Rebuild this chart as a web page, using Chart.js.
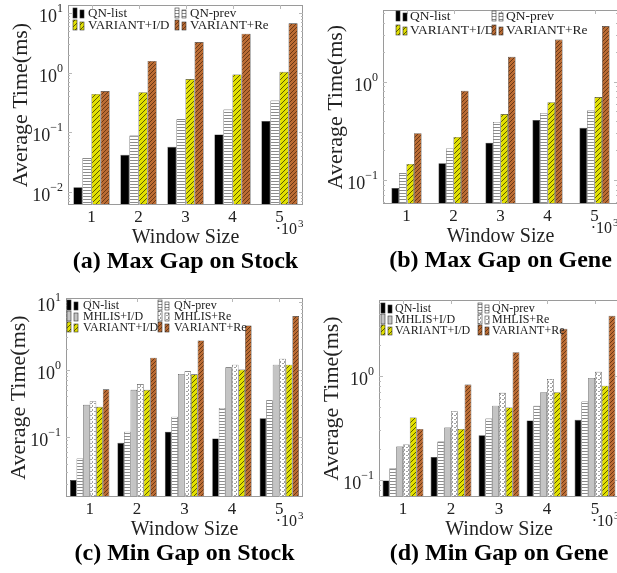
<!DOCTYPE html>
<html>
<head>
<meta charset="utf-8">
<script src="https://cdn.jsdelivr.net/npm/chart.js@4.4.1/dist/chart.umd.min.js"></script>
<style>
  html, body { margin: 0; padding: 0; background: #fff; overflow: hidden; }
  #fig { position: relative; width: 617px; height: 573px; overflow: hidden; }
  #fig canvas { position: absolute; }
</style>
</head>
<body>
<div id="fig">
  <canvas id="pa" width="308" height="285" style="left:0;top:0"></canvas>
  <canvas id="pb" width="320" height="285" style="left:308px;top:0"></canvas>
  <canvas id="pc" width="308" height="288" style="left:0;top:285px"></canvas>
  <canvas id="pd" width="320" height="288" style="left:308px;top:285px"></canvas>
</div>
<script>
// window size (x10^3)
const windowSizes = ['1', '2', '3', '4', '5'];

// (a) Max Gap on Stock
const maxStockQnList = [0.012, 0.042, 0.057, 0.092, 0.155];
const maxStockQnPrev = [0.037, 0.088, 0.165, 0.24, 0.34];
const maxStockVarID  = [0.44, 0.47, 0.78, 0.93, 1.03];
const maxStockVarRe  = [0.49, 1.57, 3.25, 4.5, 6.7];

// (b) Max Gap on Gene
const maxGeneQnList = [0.083, 0.148, 0.24, 0.41, 0.34];
const maxGeneQnPrev = [0.117, 0.21, 0.39, 0.48, 0.51];
const maxGeneVarID  = [0.146, 0.275, 0.47, 0.62, 0.70];
const maxGeneVarRe  = [0.30, 0.81, 1.8, 2.7, 3.7];

// (c) Min Gap on Stock
const minStockQnList  = [0.023, 0.082, 0.12, 0.095, 0.19];
const minStockQnPrev  = [0.048, 0.12, 0.2, 0.27, 0.35];
const minStockMhlisID = [0.30, 0.50, 0.86, 1.08, 1.18];
const minStockMhlisRe = [0.34, 0.61, 0.94, 1.18, 1.45];
const minStockVarID   = [0.28, 0.50, 0.85, 1.0, 1.18];
const minStockVarRe   = [0.51, 1.5, 2.7, 4.5, 6.2];

// (d) Min Gap on Gene
const minGeneQnList  = [0.099, 0.167, 0.27, 0.375, 0.38];
const minGeneQnPrev  = [0.13, 0.235, 0.39, 0.52, 0.57];
const minGeneMhlisID = [0.21, 0.32, 0.52, 0.70, 0.96];
const minGeneMhlisRe = [0.22, 0.46, 0.69, 0.94, 1.1];
const minGeneVarID   = [0.40, 0.31, 0.50, 0.70, 0.81];
const minGeneVarRe   = [0.31, 0.83, 1.7, 2.85, 3.8];

// y tick exponents per panel
const ticksA = [-2, -1, 0, 1];
const ticksB = [-1, 0];
const ticksC = [-1, 0, 1];
const ticksD = [-1, 0];

const SERIF = '"Liberation Serif", "DejaVu Serif", serif';

// ---------- fill patterns ----------
function makeTile(size, draw) {
    const c = document.createElement('canvas');
    c.width = size; c.height = size;
    const g = c.getContext('2d');
    draw(g, size);
    return c;
}
function diag(bg, fg, size) {
    return makeTile(size, function (g, s) {
        g.fillStyle = bg; g.fillRect(0, 0, s, s);
        g.strokeStyle = fg; g.lineWidth = 1;
        g.beginPath();
        g.moveTo(-1, s + 1); g.lineTo(s + 1, -1);
        g.moveTo(-1, 1); g.lineTo(1, -1);
        g.moveTo(s - 1, s + 1); g.lineTo(s + 1, s - 1);
        g.stroke();
    });
}
function fills(ctx) {
    return {
        qnList: '#000000',
        qnPrev: ctx.createPattern(makeTile(3, function (g, s) {
            g.fillStyle = '#ffffff'; g.fillRect(0, 0, s, s);
            g.fillStyle = '#8c8c8c'; g.fillRect(0, 1, s, 1);
        }), 'repeat'),
        mhlisID: '#c4c4c4',
        mhlisRe: ctx.createPattern(makeTile(4, function (g, s) {
            g.fillStyle = '#ffffff'; g.fillRect(0, 0, s, s);
            g.fillStyle = '#a0a0a0'; g.fillRect(0, 0, 1, 2); g.fillRect(2, 2, 2, 1);
        }), 'repeat'),
        varID: ctx.createPattern(diag('#e2e000', '#5c5a00', 5), 'repeat'),
        varRe: ctx.createPattern(diag('#bb6c34', '#6a3815', 4), 'repeat')
    };
}

// ---------- drawing plugin ----------
const figurePlugin = {
    id: 'figure',
    afterDatasetsDraw(chart) {
        const o = chart.options.plugins.figure;
        const ctx = chart.ctx;
        const a = chart.chartArea;
        const y = chart.scales.y, x = chart.scales.x;
        ctx.save();

        // frame + ticks
        ctx.strokeStyle = '#9a9a9a';
        ctx.lineWidth = 1;
        ctx.strokeRect(a.left + 0.5, a.top + 0.5, a.right - a.left - 1, a.bottom - a.top - 1);
        ctx.strokeStyle = '#b8b8b8';
        ctx.beginPath();
        for (let e = -3; e <= 1; e++) {
            for (let m = 1; m <= 9; m++) {
                const v = m * Math.pow(10, e);
                if (v < y.min || v > y.max) continue;
                const py = Math.round(y.getPixelForValue(v)) + 0.5;
                const len = m === 1 ? 4 : 2;
                ctx.moveTo(a.left, py); ctx.lineTo(a.left + len, py);
                ctx.moveTo(a.right, py); ctx.lineTo(a.right - len, py);
            }
        }
        windowSizes.forEach(function (lab, i) {
            const px = Math.round(x.getPixelForValue(i)) + 0.5;
            ctx.moveTo(px, a.top); ctx.lineTo(px, a.top + 4);
            ctx.moveTo(px, a.bottom); ctx.lineTo(px, a.bottom - 4);
        });
        ctx.stroke();

        ctx.fillStyle = '#222';
        // y tick labels 10^k
        o.ticks.forEach(function (e) {
            const py = y.getPixelForValue(Math.pow(10, e));
            const exp = e < 0 ? '\u2212' + (-e) : String(e);
            ctx.font = '12px ' + SERIF;
            ctx.textAlign = 'right';
            ctx.textBaseline = 'alphabetic';
            const ew = ctx.measureText(exp).width;
            ctx.fillText(exp, a.left - 5, py - 1);
            ctx.font = '18px ' + SERIF;
            ctx.fillText('10', a.left - 5 - ew, py + 9);
        });

        // x tick labels
        ctx.font = '17px ' + SERIF;
        ctx.textAlign = 'center';
        ctx.textBaseline = 'middle';
        windowSizes.forEach(function (lab, i) {
            ctx.fillText(lab, x.getPixelForValue(i), a.bottom + 13);
        });
        // scale label .10^3
        ctx.textAlign = 'right';
        ctx.textBaseline = 'alphabetic';
        ctx.font = '16px ' + SERIF;
        ctx.fillText('\u00b710', a.right - 6, a.bottom + 29);
        ctx.textAlign = 'left';
        ctx.font = '11px ' + SERIF;
        ctx.fillText('3', a.right - 5, a.bottom + 22);

        // axis titles
        ctx.textAlign = 'center';
        ctx.textBaseline = 'middle';
        ctx.font = '20px ' + SERIF;
        ctx.fillText('Window Size', (a.left + a.right) / 2, a.bottom + 33);
        ctx.save();
        ctx.translate(a.left - 47, (a.top + a.bottom) / 2);
        ctx.rotate(-Math.PI / 2);
        ctx.font = '22px ' + SERIF;
        ctx.fillText('Average Time(ms)', 0, 0);
        ctx.restore();

        // caption
        ctx.fillStyle = '#000';
        ctx.font = 'bold 24px ' + SERIF;
        ctx.fillText(o.caption, (a.left + a.right) / 2, a.bottom + 57);

        // legend
        const L = o.legend;
        chart.data.datasets.forEach(function (ds, i) {
            const col = i % 2, row = Math.floor(i / 2);
            const sx = a.left + L.cols[col];
            const cy = a.top + L.rows[row];
            ctx.fillStyle = ds.backgroundColor;
            ctx.strokeStyle = '#333';
            ctx.lineWidth = 0.6;
            ctx.fillRect(sx, cy - 5, 4, 10);
            ctx.strokeRect(sx, cy - 5, 4, 10);
            ctx.fillRect(sx + 7, cy - 3, 4, 8);
            ctx.strokeRect(sx + 7, cy - 3, 4, 8);
            ctx.fillStyle = '#222';
            ctx.font = L.font + 'px ' + SERIF;
            ctx.textAlign = 'left';
            ctx.textBaseline = 'middle';
            ctx.fillText(ds.label, sx + L.dx, cy + 0.5);
        });
        ctx.restore();
    }
};

function makePanel(id, cfg) {
    const canvas = document.getElementById(id);
    const f = fills(canvas.getContext('2d'));
    const datasets = cfg.series.map(function (s) {
        return {
            label: s[0],
            data: s[1],
            backgroundColor: f[s[2]],
            borderColor: '#333',
            borderWidth: 0.6,
            categoryPercentage: cfg.cat,
            barPercentage: 1.0
        };
    });
    return new Chart(canvas, {
        type: 'bar',
        data: { labels: windowSizes, datasets: datasets },
        options: {
            responsive: false,
            animation: false,
            layout: { padding: cfg.pad },
            scales: {
                x: { display: false },
                y: { display: false, type: 'logarithmic', min: cfg.min, max: cfg.max }
            },
            plugins: {
                legend: { display: false },
                tooltip: { enabled: false },
                figure: { ticks: cfg.ticks, caption: cfg.caption, legend: cfg.legend }
            }
        },
        plugins: [figurePlugin]
    });
}

makePanel('pa', {
    pad: { left: 68, top: 5, right: 5, bottom: 80 },
    min: 0.00605, max: 13.6, ticks: ticksA, cat: 0.77,
    caption: '(a) Max Gap on Stock',
    legend: { cols: [5, 107], dx: 15, rows: [8, 20], font: 13 },
    series: [
        ['QN-list', maxStockQnList, 'qnList'],
        ['QN-prev', maxStockQnPrev, 'qnPrev'],
        ['VARIANT+I/D', maxStockVarID, 'varID'],
        ['VARIANT+Re', maxStockVarRe, 'varRe']
    ]
});

makePanel('pb', {
    pad: { left: 75, top: 10, right: 10, bottom: 81 },
    min: 0.057, max: 5.4, ticks: ticksB, cat: 0.64,
    caption: '(b) Max Gap on Gene',
    legend: { cols: [13, 109], dx: 14, rows: [6, 20], font: 13.5 },
    series: [
        ['QN-list', maxGeneQnList, 'qnList'],
        ['QN-prev', maxGeneQnPrev, 'qnPrev'],
        ['VARIANT+I/D', maxGeneVarID, 'varID'],
        ['VARIANT+Re', maxGeneVarRe, 'varRe']
    ]
});

makePanel('pc', {
    pad: { left: 66, top: 13, right: 5, bottom: 76 },
    min: 0.0129, max: 11.5, ticks: ticksC, cat: 0.83,
    caption: '(c) Min Gap on Stock',
    legend: { cols: [1, 92], dx: 16, rows: [7, 18, 29], font: 12 },
    series: [
        ['QN-list', minStockQnList, 'qnList'],
        ['QN-prev', minStockQnPrev, 'qnPrev'],
        ['MHLIS+I/D', minStockMhlisID, 'mhlisID'],
        ['MHLIS+Re', minStockMhlisRe, 'mhlisRe'],
        ['VARIANT+I/D', minStockVarID, 'varID'],
        ['VARIANT+Re', minStockVarRe, 'varRe']
    ]
});

makePanel('pd', {
    pad: { left: 71, top: 15, right: 9, bottom: 76 },
    min: 0.0687, max: 5.4, ticks: ticksD, cat: 0.85,
    caption: '(d) Min Gap on Gene',
    legend: { cols: [2, 99], dx: 14, rows: [8, 19, 30], font: 12 },
    series: [
        ['QN-list', minGeneQnList, 'qnList'],
        ['QN-prev', minGeneQnPrev, 'qnPrev'],
        ['MHLIS+I/D', minGeneMhlisID, 'mhlisID'],
        ['MHLIS+Re', minGeneMhlisRe, 'mhlisRe'],
        ['VARIANT+I/D', minGeneVarID, 'varID'],
        ['VARIANT+Re', minGeneVarRe, 'varRe']
    ]
});
</script>
</body>
</html>
